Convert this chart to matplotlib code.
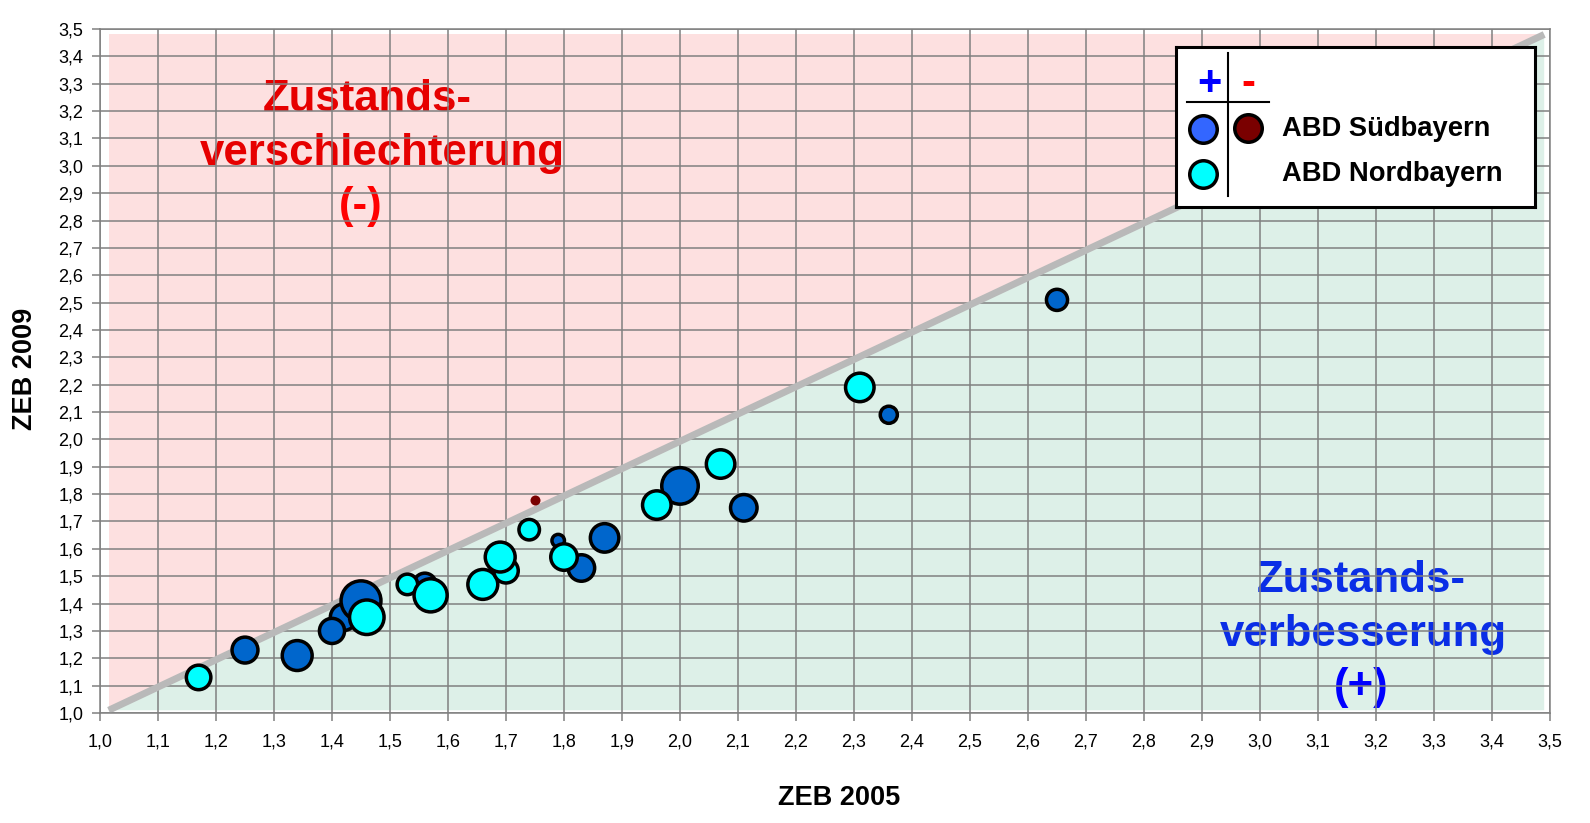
import matplotlib
matplotlib.use("Agg")
import matplotlib.pyplot as plt
import numpy as np

plt.rcParams["font.family"] = ["Liberation Sans", "DejaVu Sans"]

# ZEB 2005 (x) vs ZEB 2009 (y); size = bubble radius in px
sued_x = [1.42, 1.25, 1.34, 1.40, 1.45, 1.56, 1.79, 1.83, 1.87, 2.00, 2.11, 2.36, 2.65]
sued_y = [1.35, 1.23, 1.21, 1.30, 1.41, 1.47, 1.63, 1.53, 1.64, 1.83, 1.75, 2.09, 2.51]
sued_size = [15, 14.7, 16.7, 14.3, 21.7, 13, 8, 15, 16, 20, 15, 10.3, 12.3]

nord_x = [1.17, 1.46, 1.53, 1.57, 1.66, 1.70, 1.69, 1.74, 1.80, 1.96, 2.07, 2.31]
nord_y = [1.13, 1.35, 1.47, 1.43, 1.47, 1.52, 1.57, 1.67, 1.57, 1.76, 1.91, 2.19]
nord_size = [14, 19, 12, 18.3, 16.7, 14, 16.7, 12, 15, 16, 16, 16]

worse_x = [1.75]
worse_y = [1.78]
worse_size = [5]

ticks = np.round(np.arange(1.0, 3.51, 0.1), 1)
tick_labels = [f"{t:.1f}".replace(".", ",") for t in ticks]

BLUE = "#0066cc"
CYAN = "#00ffff"
DARKRED = "#7a0000"
PX = 100 / 72  # px per pt at dpi 100
EDGE = 3.5     # edge width in px


def area(radii, edge=EDGE):
    d = (2 * np.asarray(radii) - edge) / PX
    return d ** 2


W, H = 1590, 823
fig = plt.figure(figsize=(W / 100, H / 100), dpi=100)
ax = fig.add_axes([100 / W, 1 - 713 / H, 1450 / W, 684 / H])

# background regions split by the diagonal
x0, x1, y0, y1 = 1.015, 3.49, 1.01, 3.48
ax.fill([x0, x0, x1], [y0, y1, y1], color="#fde0e0", lw=0, zorder=0.1)
ax.fill([x0, x1, x1], [y0, y1, y0], color="#ddf0e8", lw=0, zorder=0.1)

ax.set_axisbelow(True)
ax.grid(True, color="#808080", lw=1.1)
ax.plot([x0, x1], [y0, y1], color="#b9b9b9", lw=5, solid_capstyle="butt", zorder=1)

ax.scatter(sued_x, sued_y, s=area(sued_size), c=BLUE, edgecolors="black",
           linewidths=EDGE / PX, zorder=3)
ax.scatter(nord_x, nord_y, s=area(nord_size), c=CYAN, edgecolors="black",
           linewidths=EDGE / PX, zorder=3)
ax.scatter(worse_x, worse_y, s=area(worse_size, 0), c=DARKRED, linewidths=0, zorder=3)

ax.set_xlim(1.0, 3.5)
ax.set_ylim(1.0, 3.5)
ax.set_xticks(ticks)
ax.set_yticks(ticks)
ax.set_xticklabels(tick_labels)
ax.set_yticklabels(tick_labels)
ax.tick_params(axis="both", labelsize=13, color="#808080", length=6, width=1.1)
ax.tick_params(axis="y", pad=6)
ax.tick_params(axis="x", pad=9)
for sp in ax.spines.values():
    sp.set_color("#808080")
    sp.set_linewidth(1.1)


def py(px):
    return 1 + (713 - px) / 273.6


def pxx(px):
    return 1 + (px - 100) / 580


# region captions (under the grid, as in the source)
red_words, red_sign = "#e60000", "#ff0000"
cap = dict(fontsize=31.5, fontweight="bold", ha="center", va="baseline", zorder=0.3)
ax.text(pxx(367), py(111), "Zustands-", color=red_words, **cap)
ax.text(pxx(382), py(165), "verschlechterung", color=red_words, **cap)
ax.text(pxx(361), py(218), "(-)", color=red_sign, **cap)

blue_words, blue_sign = "#0a2ee6", "#0000ff"
ax.text(pxx(1361), py(592), "Zustands-", color=blue_words, **cap)
ax.text(pxx(1363), py(646), "verbesserung", color=blue_words, **cap)
ax.text(pxx(1361), py(699), "(+)", color=blue_sign, **cap)

fig.text(839 / W, 1 - 805 / H, "ZEB 2005", fontsize=19.5, fontweight="bold",
         ha="center", va="baseline")
fig.text(25 / W, 1 - 369 / H, "ZEB 2009", fontsize=19.5, fontweight="bold",
         ha="center", va="center", rotation=90)

# hand-built legend box
lx0, ly0, lw_, lh_ = 1176, 47, 359, 160
lg = fig.add_axes([lx0 / W, 1 - (ly0 + lh_) / H, lw_ / W, lh_ / H])
lg.set_xlim(0, lw_)
lg.set_ylim(lh_, 0)
lg.set_xticks([])
lg.set_yticks([])
for sp in lg.spines.values():
    sp.set_color("black")
    sp.set_linewidth(2.2)
lg.plot([52, 52], [6, 149], color="black", lw=1.5)
lg.plot([11, 93], [55, 55], color="black", lw=1.5)
lg.text(33, 32, "+", color="#0000ff", fontsize=30, fontweight="bold", ha="center",
        va="center_baseline")
lg.text(72, 33, "-", color="#ff0000", fontsize=30, fontweight="bold", ha="center",
        va="center_baseline")
lg.scatter([27], [82], s=area([15.5]), c="#3366ff", edgecolors="black", linewidths=EDGE / PX)
lg.scatter([72], [81], s=area([15.5]), c=DARKRED, edgecolors="black", linewidths=EDGE / PX)
lg.scatter([27], [127], s=area([15.5]), c=CYAN, edgecolors="black", linewidths=EDGE / PX)
lg.text(106, 82, "ABD Südbayern", fontsize=19.7, fontweight="bold", ha="left", va="center")
lg.text(106, 127, "ABD Nordbayern", fontsize=19.7, fontweight="bold", ha="left", va="center")

fig.savefig("out.png", dpi=100)
